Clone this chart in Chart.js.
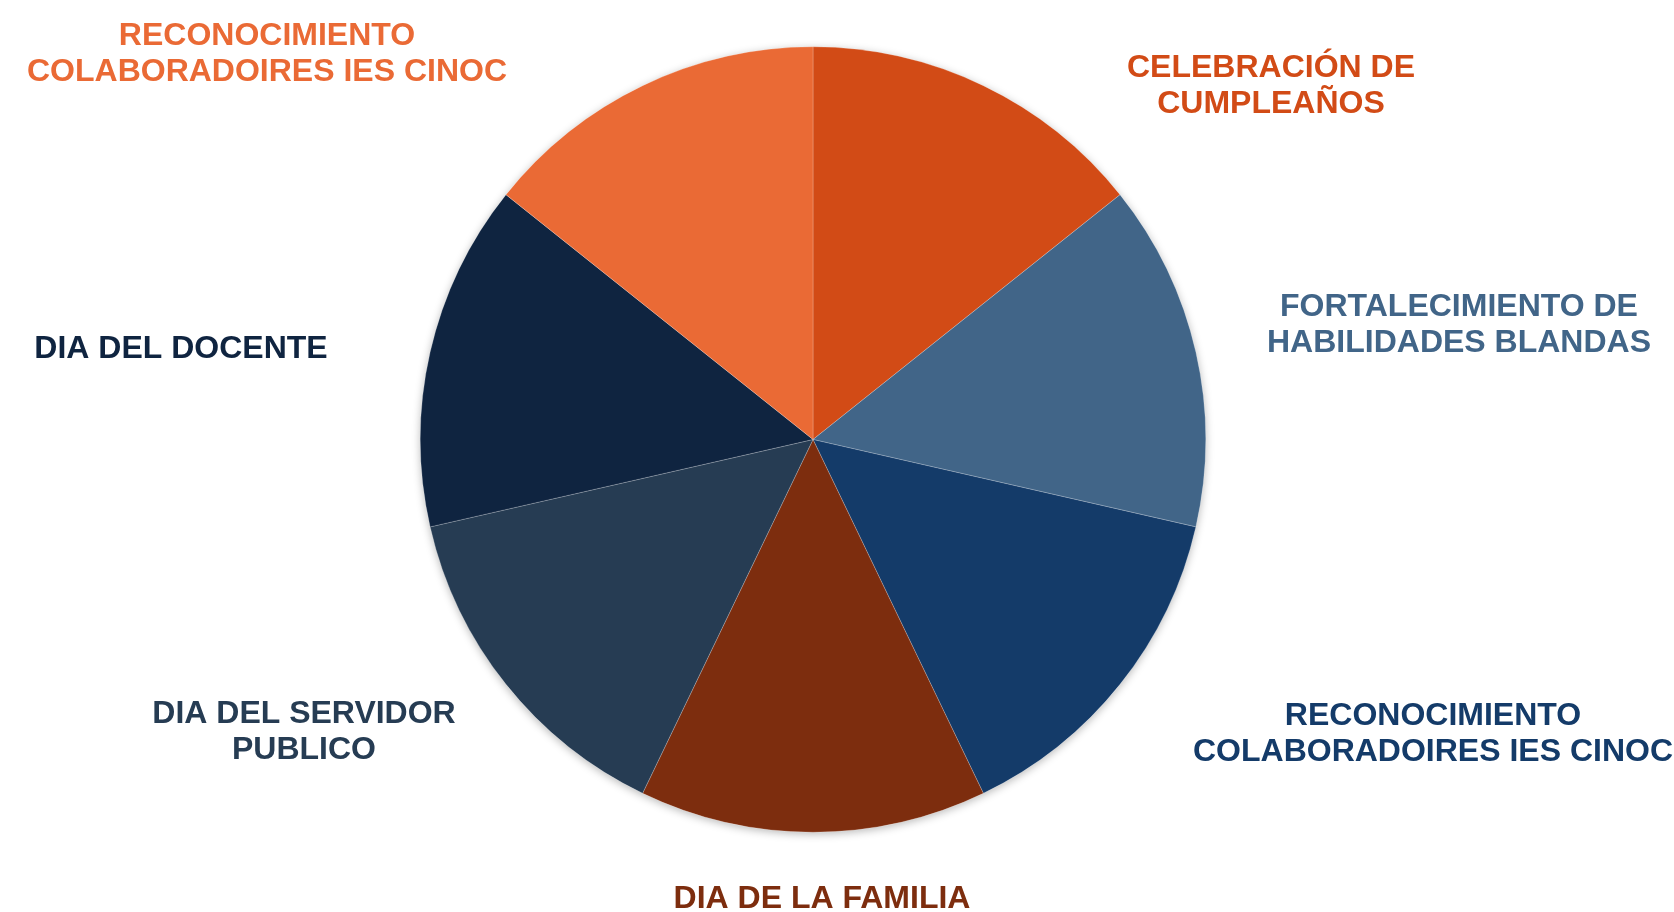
<!DOCTYPE html>
<html>
<head>
<meta charset="utf-8">
<script src="https://cdn.jsdelivr.net/npm/chart.js@4/dist/chart.umd.min.js"></script>
<style>
  html, body { margin:0; padding:0; background:#fff; }
  #wrap { width:1674px; height:912px; position:relative; }
</style>
</head>
<body>
<div id="wrap"><canvas id="pie"></canvas></div>
<script>
// ── Data ─────────────────────────────────────────────────────
const categories = [
  ['CELEBRACIÓN DE', 'CUMPLEAÑOS'],
  ['FORTALECIMIENTO DE', 'HABILIDADES BLANDAS'],
  ['RECONOCIMIENTO', 'COLABORADOIRES IES CINOC'],
  ['DIA DE LA FAMILIA'],
  ['DIA DEL SERVIDOR', 'PUBLICO'],
  ['DIA DEL DOCENTE'],
  ['RECONOCIMIENTO', 'COLABORADOIRES IES CINOC']
];
const values = [1, 1, 1, 1, 1, 1, 1];

// ── Style ────────────────────────────────────────────────────
const sliceColors = ['#d24b16', '#416588', '#143b69', '#7d2d0e', '#263c53', '#0f2440', '#ea6a35'];
// label block centre, offset from the pie centre (px)
const labelOffsets = [[458, -356], [646, -117], [620, 292], [9, 457], [-509, 290], [-632, -93], [-546, -388]];

const labelPlugin = {
  id: 'outerLabels',
  beforeDatasetsDraw(chart) {
    // soft shadow under the whole pie
    const arc = chart.getDatasetMeta(0).data[0];
    const c = chart.ctx;
    c.save();
    c.shadowColor = 'rgba(0,0,0,0.28)';
    c.shadowBlur = 9;
    c.shadowOffsetY = 2;
    c.fillStyle = '#fff';
    c.beginPath();
    c.arc(arc.x, arc.y, arc.outerRadius, 0, Math.PI * 2);
    c.fill();
    c.restore();
  },
  afterDatasetsDraw(chart) {
    const arc = chart.getDatasetMeta(0).data[0];
    const c = chart.ctx;
    const size = 32, lh = 36;
    c.save();
    c.font = `bold ${size}px "Liberation Sans", Arial, sans-serif`;
    c.textAlign = 'center';
    c.textBaseline = 'alphabetic';
    chart.data.labels.forEach((lines, i) => {
      const [dx, dy] = labelOffsets[i];
      const cx = arc.x + dx, cy = arc.y + dy;
      c.fillStyle = sliceColors[i];
      const top = cy - (lines.length - 1) * lh / 2;
      lines.forEach((t, k) => c.fillText(t, cx, top + k * lh + size * 0.358));
    });
    c.restore();
  }
};

new Chart(document.getElementById('pie'), {
  type: 'pie',
  data: {
    labels: categories,
    datasets: [{
      data: values,
      backgroundColor: sliceColors,
      borderColor: 'rgba(255,255,255,0.35)',
      borderWidth: 0.6
    }]
  },
  options: {
    responsive: true, maintainAspectRatio: false, animation: false,
    layout: { padding: { top: 46, bottom: 79, left: 420, right: 468 } },
    plugins: { legend: { display: false }, tooltip: { enabled: false } }
  },
  plugins: [labelPlugin]
});
</script>
</body>
</html>
